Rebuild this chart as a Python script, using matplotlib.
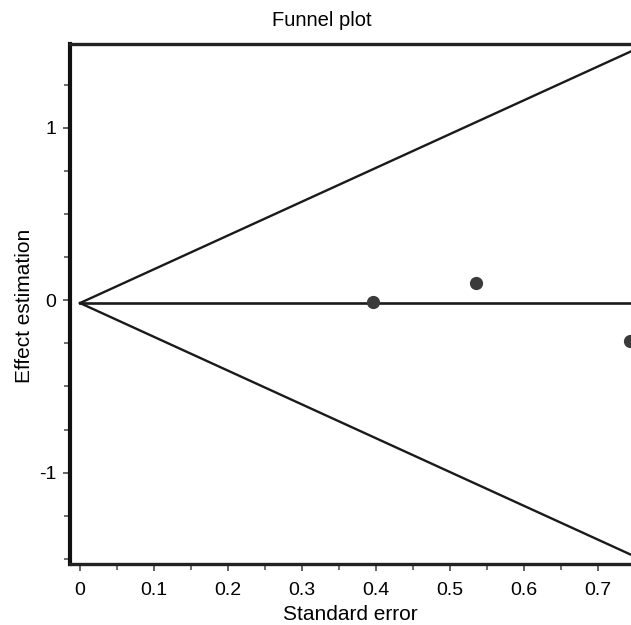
import matplotlib
matplotlib.use("Agg")
import matplotlib.pyplot as plt
import numpy as np
from matplotlib.ticker import MultipleLocator

plt.rcParams['font.family'] = ['Liberation Sans', 'DejaVu Sans']

# Data
std_error = [0.396, 0.536, 0.744]
effect = [-0.009, 0.100, -0.239]
pooled = -0.016
z = 1.96
x_ticks = [0, 0.1, 0.2, 0.3, 0.4, 0.5, 0.6, 0.7]
x_tick_labels = ["0", "0.1", "0.2", "0.3", "0.4", "0.5", "0.6", "0.7"]
y_ticks = [-1, 0, 1]
y_tick_labels = ["-1", "0", "1"]
xlim = (-0.0135, 0.745)
ylim = (-1.53, 1.487)

W, H = 631, 625
fig = plt.figure(figsize=(W / 100, H / 100), dpi=100)
ax = fig.add_axes([70 / W, (H - 564) / H, (W - 70) / W, (564 - 44) / H])

se_line = np.array([0.0, xlim[1] + 0.05])
ax.plot(se_line, pooled + z * se_line, color='#1a1a1a', lw=1.7)
ax.plot(se_line, pooled - z * se_line, color='#1a1a1a', lw=1.7)
ax.plot([0.0, xlim[1] + 0.05], [pooled, pooled], color='#1a1a1a', lw=1.9)

ax.plot(std_error, effect, 'o', color='#3a3a3a', ms=8.5, mec='#3a3a3a')

ax.set_xlim(*xlim)
ax.set_ylim(*ylim)

ax.set_xticks(x_ticks)
ax.set_xticklabels(x_tick_labels)
ax.set_yticks(y_ticks)
ax.set_yticklabels(y_tick_labels)
ax.xaxis.set_minor_locator(MultipleLocator(0.05))
ax.yaxis.set_minor_locator(MultipleLocator(0.25))

ax.tick_params(axis='both', which='major', direction='out', length=5, width=1.3,
               color='#555555', labelsize=14)
ax.tick_params(axis='both', which='minor', direction='out', length=4, width=1.2,
               color='#555555')
ax.tick_params(axis='x', which='both', pad=8)
ax.tick_params(axis='y', which='both', pad=5)

for side in ['left']:
    ax.spines[side].set_linewidth(3.0)
    ax.spines[side].set_color('#111111')
for side in ['top', 'bottom']:
    ax.spines[side].set_linewidth(2.4)
    ax.spines[side].set_color('#222222')
ax.spines['right'].set_visible(False)

ax.set_xlabel("Standard error", fontsize=15)
ax.set_ylabel("Effect estimation", fontsize=15)
ax.xaxis.set_label_coords(0.5, -0.079)
ax.yaxis.set_label_coords(-0.064, 0.496)

fig.text(322 / W, 1 - 20 / H, "Funnel plot", fontsize=14.5, ha='center', va='center')

fig.savefig("out.png", dpi=100)
